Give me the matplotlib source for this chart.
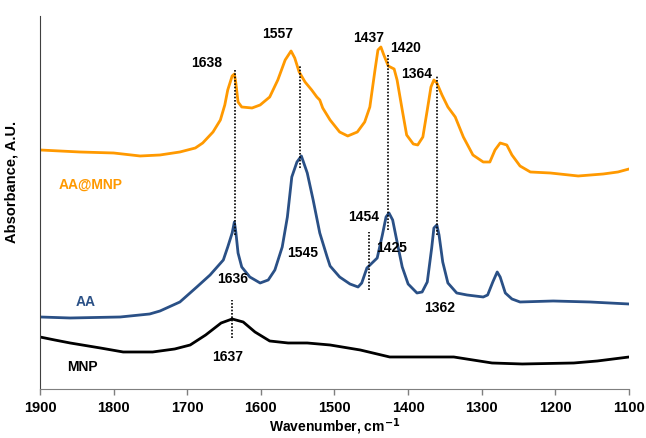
"""FTIR spectra of MNP, AA and AA@MNP."""

import matplotlib
matplotlib.use('Agg')
import matplotlib.pyplot as plt

plt.rcParams['font.family'] = ['Liberation Sans', 'DejaVu Sans']
plt.rcParams['font.weight'] = 'bold'

# ── data (wavenumber, absorbance in arbitrary offset units) ──────────────────
aamnp_wn = [1900, 1846, 1800, 1764, 1737, 1710, 1689, 1679, 1665, 1655, 1649,
            1645, 1639, 1636, 1634, 1631, 1626, 1612, 1601, 1588, 1577, 1567,
            1559, 1554, 1548, 1540, 1531, 1524, 1520, 1516, 1506, 1493, 1482,
            1469, 1459, 1452, 1445, 1441, 1437, 1433, 1427, 1419, 1415, 1408,
            1402, 1393, 1387, 1380, 1374, 1369, 1365, 1361, 1354, 1346, 1336,
            1325, 1312, 1298, 1289, 1282, 1275, 1266, 1259, 1248, 1234, 1207,
            1169, 1135, 1115, 1100]
aamnp_abs = [2.39, 2.37, 2.36, 2.33, 2.34, 2.37, 2.41, 2.46, 2.57, 2.69, 2.84,
             2.99, 3.13, 3.15, 3.06, 2.87, 2.82, 2.81, 2.84, 2.92, 3.09, 3.29,
             3.38, 3.31, 3.17, 3.07, 2.99, 2.92, 2.89, 2.81, 2.69, 2.57, 2.53,
             2.57, 2.67, 2.82, 3.19, 3.39, 3.42, 3.34, 3.23, 3.20, 3.09, 2.79,
             2.54, 2.45, 2.44, 2.52, 2.79, 3.02, 3.09, 3.06, 2.94, 2.82, 2.72,
             2.52, 2.34, 2.27, 2.27, 2.39, 2.46, 2.44, 2.34, 2.23, 2.17, 2.16,
             2.13, 2.15, 2.17, 2.20]

aa_wn = [1900, 1859, 1791, 1751, 1737, 1710, 1687, 1669, 1651, 1645, 1639,
         1636, 1634, 1631, 1626, 1615, 1601, 1590, 1581, 1571, 1564, 1558,
         1551, 1545, 1537, 1529, 1520, 1510, 1506, 1493, 1479, 1468, 1463,
         1456, 1449, 1442, 1435, 1430, 1426, 1421, 1415, 1408, 1400, 1388,
         1381, 1374, 1368, 1365, 1361, 1358, 1353, 1346, 1334, 1320, 1298,
         1292, 1285, 1279, 1275, 1268, 1259, 1248, 1203, 1153, 1100]
aa_abs = [0.72, 0.71, 0.72, 0.75, 0.78, 0.87, 1.02, 1.14, 1.29, 1.42, 1.56,
          1.67, 1.57, 1.36, 1.22, 1.12, 1.06, 1.09, 1.19, 1.42, 1.72, 2.12,
          2.27, 2.33, 2.16, 1.89, 1.56, 1.32, 1.23, 1.12, 1.05, 1.02, 1.06,
          1.21, 1.26, 1.31, 1.54, 1.72, 1.76, 1.69, 1.47, 1.22, 1.05, 0.96,
          0.97, 1.07, 1.41, 1.61, 1.64, 1.54, 1.27, 1.06, 0.96, 0.94, 0.92,
          0.94, 1.07, 1.17, 1.12, 0.96, 0.90, 0.87, 0.88, 0.87, 0.85]

mnp_wn = [1900, 1880, 1859, 1818, 1787, 1747, 1717, 1696, 1675, 1654, 1639,
          1624, 1608, 1588, 1563, 1537, 1506, 1465, 1425, 1389, 1338, 1312,
          1286, 1245, 1175, 1143, 1100]
mnp_abs = [0.52, 0.49, 0.46, 0.41, 0.37, 0.37, 0.40, 0.44, 0.54, 0.66, 0.70,
           0.67, 0.57, 0.48, 0.46, 0.46, 0.44, 0.39, 0.32, 0.32, 0.32, 0.29,
           0.26, 0.25, 0.26, 0.28, 0.32]

# peak markers: (wavenumber, y_top, y_bottom)
marker_wn  = [1635, 1547, 1427, 1361, 1453, 1639]
marker_top = [3.20, 3.24, 3.34, 3.13, 1.57, 0.89]
marker_bot = [1.54, 2.21, 1.59, 1.54, 0.99, 0.51]

# peak labels
label_txt = ['1638', '1557', '1437', '1420', '1364',
             '1545', '1636', '1454', '1425', '1362', '1637']
label_wn  = [1673, 1577, 1454, 1404, 1388, 1543, 1638, 1461, 1422, 1357, 1645]
label_y   = [3.26, 3.55, 3.51, 3.41, 3.15, 1.36, 1.10, 1.72, 1.41, 0.81, 0.32]

ORANGE = '#FF9900'
BLUE   = '#2A5086'

fig = plt.figure(figsize=(6.46, 4.38), dpi=100)
ax = fig.add_axes([0.0619, 0.1119, 0.9118, 0.8516])

ax.plot(aamnp_wn, aamnp_abs, color=ORANGE, lw=2.0, solid_joinstyle='round')
ax.plot(aa_wn, aa_abs, color=BLUE, lw=2.0, solid_joinstyle='round')
ax.plot(mnp_wn, mnp_abs, color='black', lw=2.0, solid_joinstyle='round')

ax.vlines(marker_wn, marker_bot, marker_top, colors='black',
          linestyles=(0, (1, 1)), lw=1.2)

for t, x, y in zip(label_txt, label_wn, label_y):
    ax.text(x, y, t, ha='center', va='center', fontsize=10, weight='bold')

# series names
ax.text(1831, 2.04, 'AA@MNP', color=ORANGE, ha='center', va='center',
        fontsize=10, weight='bold')
ax.text(1838, 0.87, 'AA', color=BLUE, ha='center', va='center',
        fontsize=10, weight='bold')
ax.text(1842, 0.22, 'MNP', color='black', ha='center', va='center',
        fontsize=10, weight='bold')

ax.set_xlim(1900, 1100)
ax.set_ylim(0, 3.73)
ax.set_xticks(range(1900, 1099, -100))
ax.set_yticks([])
ax.tick_params(axis='x', direction='out', length=4, width=1, color='#7f7f7f',
               labelsize=10.5, pad=5)
for lbl in ax.get_xticklabels():
    lbl.set_fontweight('bold')

for s in ['top', 'right']:
    ax.spines[s].set_visible(False)
ax.spines['bottom'].set_color('#7f7f7f')
ax.spines['left'].set_color('#404040')

ax.set_xlabel('Wavenumber, cm$^{\\mathbf{-1}}$', fontsize=10, weight='bold',
              labelpad=1)
ax.set_ylabel('Absorbance, A.U.', fontsize=10.5, weight='bold')
ax.yaxis.set_label_coords(-0.037, 0.555)

fig.savefig('out.png', dpi=100, facecolor='white')
